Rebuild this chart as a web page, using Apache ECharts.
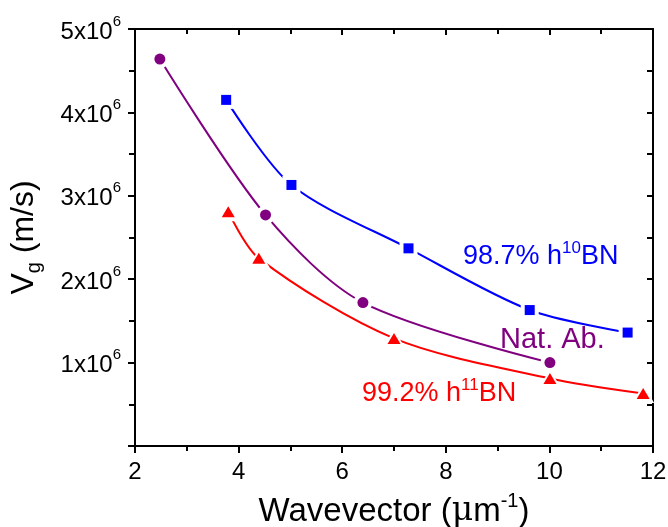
<!DOCTYPE html>
<html>
<head>
<meta charset="utf-8">
<script src="https://cdn.jsdelivr.net/npm/echarts@6/dist/echarts.min.js"></script>
<style>
html,body{margin:0;padding:0;background:#fff;}
#c{width:668px;height:527px;}
</style>
</head>
<body>
<div id="c"></div>
<script>
// ---- data ----
var purpleX = [2.48, 4.52, 6.40, 10.01];
var purpleY = [4.64e6, 2.77e6, 1.72e6, 1.00e6];
var blueX = [3.76, 5.02, 7.28, 9.62, 11.51];
var blueY = [4.15e6, 3.13e6, 2.37e6, 1.63e6, 1.36e6];
var redX = [3.80, 4.39, 7.00, 10.01, 11.81];
var redY = [2.81e6, 2.25e6, 1.29e6, 0.81e6, 0.63e6];
var xTicks = [2, 4, 6, 8, 10, 12];
var yTicks = [1, 2, 3, 4, 5]; // x10^6
var purpleName = 'Nat. Ab.';
var blueName = ['98.7% h', '10', 'BN'];
var redName = ['99.2% h', '11', 'BN'];

function pairs(xs, ys) { return xs.map(function (x, i) { return [x, ys[i]]; }); }

var FONT = '"Liberation Sans", Arial, Helvetica, sans-serif';
var chart = echarts.init(document.getElementById('c'), null, {renderer: 'canvas'});

function baseAxis(extra) {
  return Object.assign({
    axisLine: {show: true, onZero: false, lineStyle: {color: '#000', width: 2}},
    splitLine: {show: false},
    minorSplitLine: {show: false}
  }, extra);
}

var PURPLE = '#800080', BLUE = '#0000ff', RED = '#ff0000';

function lineSeries(data, color) {
  return {
    type: 'line', data: data, smooth: 0.3, showSymbol: false, symbol: 'none',
    lineStyle: {color: color, width: 2}, z: 2, silent: true
  };
}
function halo(data, symbol, size) {
  return {
    type: 'scatter', data: data, symbol: symbol, symbolSize: size,
    itemStyle: {color: '#fff', opacity: 1}, z: 3, silent: true
  };
}
function marks(data, symbol, size, color) {
  return {
    type: 'scatter', data: data, symbol: symbol, symbolSize: size,
    itemStyle: {color: color, opacity: 1}, z: 4, silent: true
  };
}

var pData = pairs(purpleX, purpleY), bData = pairs(blueX, blueY), rData = pairs(redX, redY);

var option = {
  animation: false,
  backgroundColor: '#fff',
  grid: {left: 135, right: 15, top: 29, bottom: 81, containLabel: false, outerBoundsMode: 'none'},
  xAxis: [
    baseAxis({
      type: 'value', position: 'bottom', min: xTicks[0], max: xTicks[xTicks.length - 1], interval: 2,
      axisTick: {show: true, inside: false, length: 7, lineStyle: {color: '#000', width: 2}},
      minorTick: {show: true, splitNumber: 2, length: 5, lineStyle: {color: '#000', width: 2}},
      axisLabel: {show: true, margin: 14, color: '#000', fontSize: 24, fontFamily: FONT},
      name: '{t|Wavevector (}{mu|μ}{t|m}{s|-1}{t|)}',
      nameLocation: 'middle', nameGap: 45,
      nameTextStyle: {
        color: '#000', fontFamily: FONT,
        rich: {
          t: {fontSize: 33, fontFamily: FONT, color: '#000', lineHeight: 37, verticalAlign: 'bottom'},
          mu: {fontSize: 33, fontFamily: '"DejaVu Serif", serif', color: '#000', lineHeight: 37, verticalAlign: 'bottom'},
          s: {fontSize: 20, fontFamily: FONT, color: '#000', lineHeight: 14, verticalAlign: 'top'}
        }
      }
    }),
    baseAxis({
      type: 'value', position: 'top', min: xTicks[0], max: xTicks[xTicks.length - 1], interval: 2,
      axisTick: {show: true, inside: true, length: 6, lineStyle: {color: '#000', width: 2}},
      minorTick: {show: true, splitNumber: 2, length: 5, lineStyle: {color: '#000', width: 2}},
      axisLabel: {show: false}
    })
  ],
  yAxis: [
    baseAxis({
      type: 'value', position: 'left', min: 0, max: yTicks[yTicks.length - 1] * 1e6, interval: 1e6,
      axisTick: {show: true, inside: false, length: 7, lineStyle: {color: '#000', width: 2}},
      minorTick: {show: true, splitNumber: 2, length: 6, lineStyle: {color: '#000', width: 2}},
      axisLabel: {
        show: true, margin: 14, showMinLabel: false,
        formatter: function (v) { return v === 0 ? '' : '{n|' + (v / 1e6) + 'x10}{s|6}'; },
        rich: {
          n: {fontSize: 24, fontFamily: FONT, color: '#000', lineHeight: 30, verticalAlign: 'bottom'},
          s: {fontSize: 15, fontFamily: FONT, color: '#000', lineHeight: 8, verticalAlign: 'top'}
        }
      },
      name: '{t|V}{g|g}{t| (m/s)}',
      nameLocation: 'middle', nameRotate: 90, nameGap: 91,
      nameTextStyle: {
        color: '#000', fontFamily: FONT,
        rich: {
          t: {fontSize: 32, fontFamily: FONT, color: '#000', lineHeight: 36, verticalAlign: 'top'},
          g: {fontSize: 20, fontFamily: FONT, color: '#000', lineHeight: 24, verticalAlign: 'bottom'}
        }
      }
    }),
    baseAxis({
      type: 'value', position: 'right', min: 0, max: yTicks[yTicks.length - 1] * 1e6, interval: 1e6,
      axisTick: {show: true, inside: true, length: 6, lineStyle: {color: '#000', width: 2}},
      minorTick: {show: true, splitNumber: 2, length: 6, lineStyle: {color: '#000', width: 2}},
      axisLabel: {show: false}
    })
  ],
  series: [
    lineSeries(pData, PURPLE),
    lineSeries(bData, BLUE),
    lineSeries(rData, RED),
    halo(pData, 'circle', 19),
    halo(bData, 'rect', 18),
    halo(rData, 'triangle', [22, 19]),
    marks(pData, 'circle', 11, PURPLE),
    marks(bData, 'rect', 10, BLUE),
    marks(rData, 'triangle', [13, 11], RED)
  ],
  graphic: [
    {
      type: 'text', left: 463, top: 240, z: 10,
      style: {
        text: '{t|' + blueName[0] + '}{s|' + blueName[1] + '}{t|' + blueName[2] + '}',
        rich: {
          t: {fontSize: 27, fontFamily: FONT, fill: BLUE, lineHeight: 30, verticalAlign: 'bottom'},
          s: {fontSize: 17, fontFamily: FONT, fill: BLUE, lineHeight: 14, verticalAlign: 'top'}
        }
      }
    },
    {
      type: 'text', left: 500, top: 325, z: 10,
      style: {text: purpleName, font: '29px ' + FONT, fill: PURPLE}
    },
    {
      type: 'text', left: 362, top: 377, z: 10,
      style: {
        text: '{t|' + redName[0] + '}{s|' + redName[1] + '}{t|' + redName[2] + '}',
        rich: {
          t: {fontSize: 27, fontFamily: FONT, fill: RED, lineHeight: 30, verticalAlign: 'bottom'},
          s: {fontSize: 17, fontFamily: FONT, fill: RED, lineHeight: 14, verticalAlign: 'top'}
        }
      }
    }
  ]
};
chart.setOption(option);
</script>
</body>
</html>
